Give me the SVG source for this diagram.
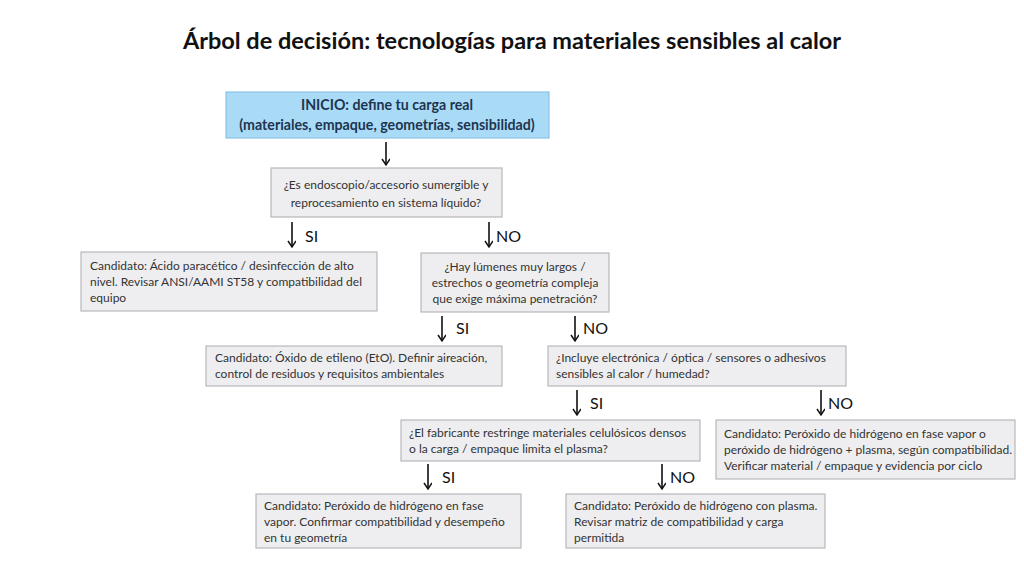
<svg xmlns="http://www.w3.org/2000/svg" width="1024" height="576" viewBox="0 0 1024 576">
<style>
text{font-family:Lato,"Noto Sans",sans-serif;fill:#333}
.b{fill:#eeeef0;stroke:#b8b8bc;stroke-width:1.2}
.s{fill:#a9dbf7;stroke:#8cc4e4;stroke-width:1.2}
.t{font-size:12px}
.c{text-anchor:middle}
.l{font-size:16px;fill:#111}
.a{stroke:#111;stroke-width:1.6;marker-end:url(#ah)}
</style>
<defs><marker id="ah" markerWidth="9" markerHeight="9" refX="7" refY="4" orient="auto" markerUnits="userSpaceOnUse"><path d="M1,0 L7,4 L1,8" fill="none" stroke="#111" stroke-width="1.5"/></marker></defs>
<rect width="1024" height="576" fill="#fff"/>
<text x="512" y="49" class="c" style="font-size:23.5px;font-weight:bold;fill:#111">Árbol de decisión: tecnologías para materiales sensibles al calor</text>
<g id="start"><rect class="s" x="226" y="92" width="323" height="46"/><text class="c" x="387" y="110" style="font-size:14.2px;font-weight:bold;fill:#1d3550">INICIO: define tu carga real</text><text class="c" x="387" y="130" style="font-size:14.2px;font-weight:bold;fill:#1d3550">(materiales, empaque, geometrías, sensibilidad)</text></g>
<g id="q1"><rect class="b" x="271" y="168" width="231" height="49"/><text class="t c" x="386" y="189">¿Es endoscopio/accesorio sumergible y</text><text class="t c" x="386" y="207">reprocesamiento en sistema líquido?</text></g>
<g id="c1"><rect class="b" x="81" y="252" width="296" height="59"/><text class="t" x="90" y="270">Candidato: Ácido paracético / desinfección de alto</text><text class="t" x="90" y="286">nivel. Revisar ANSI/AAMI ST58 y compatibilidad del</text><text class="t" x="90" y="302">equipo</text></g>
<g id="q2"><rect class="b" x="421" y="253" width="188" height="59"/><text class="t c" x="515" y="271">¿Hay lúmenes muy largos /</text><text class="t c" x="515" y="287">estrechos o geometría compleja</text><text class="t c" x="515" y="303">que exige máxima penetración?</text></g>
<g id="c2"><rect class="b" x="206" y="346" width="296" height="40"/><text class="t" x="215" y="362">Candidato: Óxido de etileno (EtO). Definir aireación,</text><text class="t" x="215" y="378">control de residuos y requisitos ambientales</text></g>
<g id="q3"><rect class="b" x="548" y="346" width="298" height="40"/><text class="t" x="556" y="362">¿Incluye electrónica / óptica / sensores o adhesivos</text><text class="t" x="556" y="378">sensibles al calor / humedad?</text></g>
<g id="q4"><rect class="b" x="401" y="420" width="299" height="41"/><text class="t" x="409" y="437">¿El fabricante restringe materiales celulósicos densos</text><text class="t" x="409" y="453">o la carga / empaque limita el plasma?</text></g>
<g id="c5"><rect class="b" x="716" y="420" width="299" height="59"/><text class="t" x="724" y="438">Candidato: Peróxido de hidrógeno en fase vapor o</text><text class="t" x="724" y="454">peróxido de hidrógeno + plasma, según compatibilidad.</text><text class="t" x="724" y="470">Verificar material / empaque y evidencia por ciclo</text></g>
<g id="c3"><rect class="b" x="256" y="494" width="265" height="54"/><text class="t" x="264" y="510">Candidato: Peróxido de hidrógeno en fase</text><text class="t" x="264" y="526">vapor. Confirmar compatibilidad y desempeño</text><text class="t" x="264" y="542">en tu geometría</text></g>
<g id="c4"><rect class="b" x="566" y="494" width="259" height="54"/><text class="t" x="574" y="510">Candidato: Peróxido de hidrógeno con plasma.</text><text class="t" x="574" y="526">Revisar matriz de compatibilidad y carga</text><text class="t" x="574" y="542">permitida</text></g>
<g id="connectors">
<line class="a" x1="386" y1="142" x2="386" y2="165"/>
<line class="a" x1="292" y1="222" x2="292" y2="247"/><text class="l" x="305" y="242">SI</text>
<line class="a" x1="489" y1="222" x2="489" y2="247"/><text class="l" x="496" y="242">NO</text>
<line class="a" x1="442" y1="316" x2="442" y2="341"/><text class="l" x="456" y="334">SI</text>
<line class="a" x1="575" y1="316" x2="575" y2="341"/><text class="l" x="583" y="334">NO</text>
<line class="a" x1="577" y1="390" x2="577" y2="415"/><text class="l" x="590" y="409">SI</text>
<line class="a" x1="821" y1="390" x2="821" y2="415"/><text class="l" x="828" y="409">NO</text>
<line class="a" x1="428" y1="464" x2="428" y2="489"/><text class="l" x="442" y="483">SI</text>
<line class="a" x1="662" y1="464" x2="662" y2="489"/><text class="l" x="670" y="483">NO</text>
</g>
</svg>
